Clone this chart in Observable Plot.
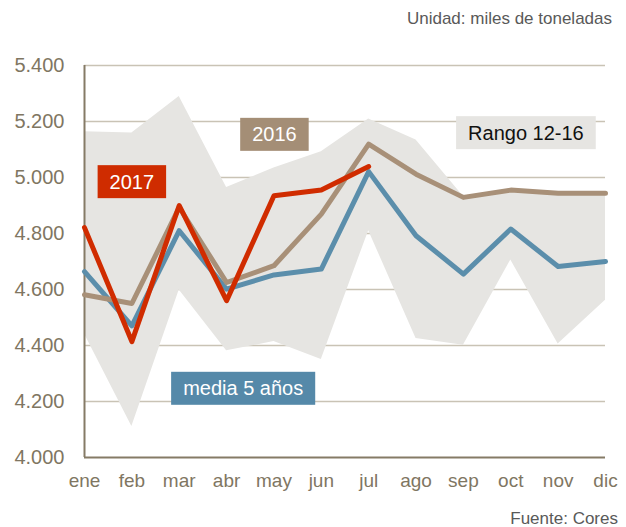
<!DOCTYPE html>
<html><head><meta charset="utf-8">
<script src="https://cdn.jsdelivr.net/npm/d3@7"></script>
<script src="https://cdn.jsdelivr.net/npm/@observablehq/plot@0.6"></script>
<style>
body{margin:0;background:#fff;}
#wrap{position:relative;width:626px;height:527px;font-family:"Liberation Sans",Arial,sans-serif;}
.note{position:absolute;font-size:17px;color:#595959;white-space:nowrap;}
</style></head><body>
<div id="wrap">
<div class="note" style="right:14px;top:9px">Unidad: miles de toneladas</div>
<div class="note" style="right:8px;bottom:-2px">Fuente: Cores</div>
</div>
<script>
const months = ["ene","feb","mar","abr","may","jun","jul","ago","sep","oct","nov","dic"];
const yTicks = [4000,4200,4400,4600,4800,5000,5200,5400];
const media5 = [4664,4470,4810,4601,4652,4673,5021,4792,4655,4816,4682,4700];
const y2016 = [4581,4550,4893,4625,4685,4869,5119,5012,4929,4955,4944,4944];
const y2017 = [4821,4414,4900,4560,4935,4955,5039];
const rangeHigh = [5163,5159,5289,4964,5034,5092,5209,5134,4932,4958,4947,4947];
const rangeLow = [4441,4111,4598,4381,4414,4350,4810,4425,4401,4705,4405,4562];
const labelText = ["2017","2016","Rango 12-16","media 5 años"];
const labelMonth = [1, 4.01, 9.32, 3.35];
const labelValue = [4983, 5152, 5158, 4245];

const labelBox = ["#cf2c00","#a48e76","#e6e5e2","#5589a9"];
const labelInk = ["#ffffff","#ffffff","#111111","#ffffff"];

const idx = months.map((d,i)=>i);
const idx17 = y2017.map((d,i)=>i);
const fmt = d3.formatLocale({decimal:",", thousands:".", grouping:[3], currency:["","€"]}).format(",d");

const plot = Plot.plot({
  width:626, height:527,
  marginLeft:84, marginRight:21, marginTop:65, marginBottom:70,
  style:{fontFamily:"Liberation Sans, Arial, sans-serif", background:"transparent"},
  x:{domain:[0,11]},
  y:{domain:[4000,5400]},
  marks:[
    Plot.ruleY(yTicks.filter(v=>v>4000), {stroke:"#c9c3b5", strokeWidth:1.5}),
    Plot.areaY(idx, {x:i=>i, y1:i=>rangeLow[i], y2:i=>rangeHigh[i], fill:"#e6e5e2"}),
    Plot.ruleY([4000], {stroke:"#857b66", strokeWidth:2}),
    Plot.ruleX([0], {stroke:"#857b66", strokeWidth:2}),
    Plot.axisY({ticks:yTicks, tickSize:0, tickPadding:20, tickFormat:fmt, fontSize:20, color:"#7f7662", label:null}),
    Plot.axisX({ticks:idx, tickSize:0, tickPadding:16, tickFormat:i=>months[i], fontSize:19, color:"#7f7662", label:null}),
    Plot.line(idx, {x:i=>i, y:i=>media5[i], stroke:"#5b8eab", strokeWidth:5}),
    Plot.line(idx, {x:i=>i, y:i=>y2016[i], stroke:"#a89078", strokeWidth:5}),
    Plot.line(idx17, {x:i=>i, y:i=>y2017[i], stroke:"#d02c00", strokeWidth:5}),
    Plot.text(labelText, {x:labelMonth, y:labelValue, text:d=>d, fill:labelInk, fontSize:20})
  ]
});
const wrap = document.getElementById("wrap");
wrap.prepend(plot);
const ns = "http://www.w3.org/2000/svg";
plot.querySelectorAll("text").forEach(t=>{
  const i = labelText.indexOf(t.textContent);
  if (i < 0) return;
  const b = t.getBBox();
  const r = document.createElementNS(ns,"rect");
  r.setAttribute("x", b.x-12);
  r.setAttribute("y", b.y+b.height/2-16.5);
  r.setAttribute("width", b.width+24);
  r.setAttribute("height", 33);
  r.setAttribute("fill", labelBox[i]);
  if (t.getAttribute("transform")) r.setAttribute("transform", t.getAttribute("transform"));
  t.parentNode.insertBefore(r, t);
});
</script>
</body></html>
